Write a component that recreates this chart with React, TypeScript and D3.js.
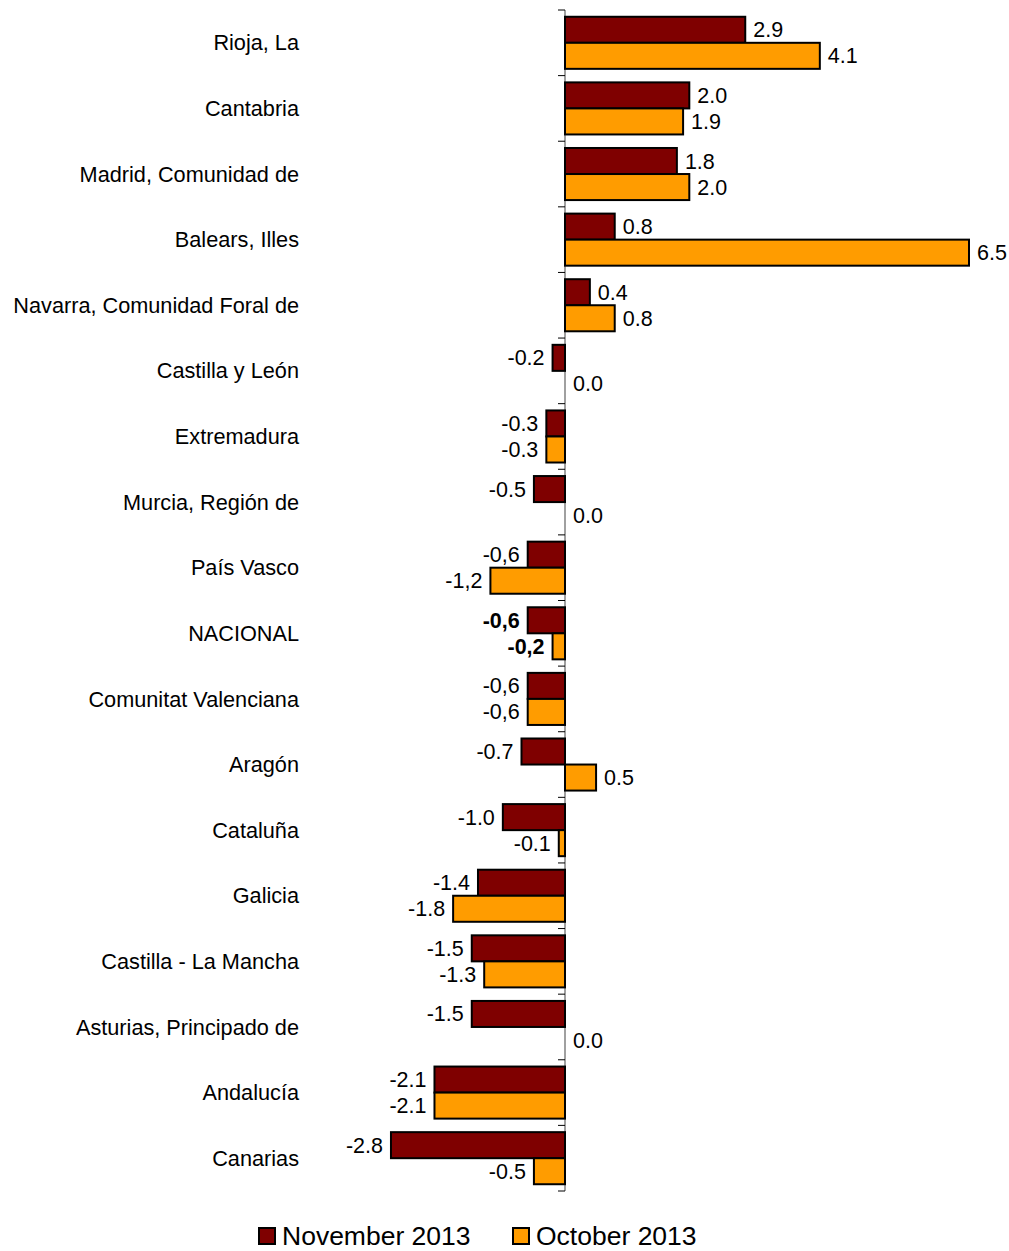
import { useEffect, useRef } from "react";
import * as d3 from "d3";

const regions = [
  "Rioja, La",
  "Cantabria",
  "Madrid, Comunidad de",
  "Balears, Illes",
  "Navarra, Comunidad Foral de",
  "Castilla y León",
  "Extremadura",
  "Murcia, Región de",
  "País Vasco",
  "NACIONAL",
  "Comunitat Valenciana",
  "Aragón",
  "Cataluña",
  "Galicia",
  "Castilla - La Mancha",
  "Asturias, Principado de",
  "Andalucía",
  "Canarias",
];

const november2013 = [2.9, 2.0, 1.8, 0.8, 0.4, -0.2, -0.3, -0.5, -0.6, -0.6, -0.6, -0.7, -1.0, -1.4, -1.5, -1.5, -2.1, -2.8];
const october2013 = [4.1, 1.9, 2.0, 6.5, 0.8, 0.0, -0.3, 0.0, -1.2, -0.2, -0.6, 0.5, -0.1, -1.8, -1.3, 0.0, -2.1, -0.5];

// value labels as printed in the source (mixed decimal separators)
const novemberLabels = ["2.9", "2.0", "1.8", "0.8", "0.4", "-0.2", "-0.3", "-0.5", "-0,6", "-0,6", "-0,6", "-0.7", "-1.0", "-1.4", "-1.5", "-1.5", "-2.1", "-2.8"];
const octoberLabels = ["4.1", "1.9", "2.0", "6.5", "0.8", "0.0", "-0.3", "0.0", "-1,2", "-0,2", "-0,6", "0.5", "-0.1", "-1.8", "-1.3", "0.0", "-2.1", "-0.5"];

const seriesNames = ["November 2013", "October 2013"];
const seriesColors = ["#7f0000", "#ff9c00"];

const App = () => {
  const ref = useRef<HTMLDivElement>(null);
  const width = 1009;
  const height = 1251;

  useEffect(() => {
    d3.select(ref.current).select("svg").remove();

    const svg = d3
      .select(ref.current)
      .append("svg")
      .attr("width", width)
      .attr("height", height)
      .style("display", "block")
      .style("font-family", "'Liberation Sans', Arial, sans-serif");

    const x = d3.scaleLinear().domain([0, 6.5]).range([565, 969]);
    const y = d3.scaleBand<string>().domain(regions).range([10, 1191]).paddingInner(0).paddingOuter(0);
    const inner = d3.scaleBand<number>().domain([0, 1]).range([0, y.bandwidth()]).paddingOuter(0.26).paddingInner(0);

    const series = [november2013, october2013];
    const labels = [novemberLabels, octoberLabels];

    // axis line with ticks between categories
    const ax = svg.append("g");
    ax.append("line")
      .attr("x1", x(0)).attr("x2", x(0))
      .attr("y1", y.range()[0]).attr("y2", y.range()[1])
      .attr("stroke", "#808080").attr("stroke-width", 1.5);
    const bounds = regions.map((r) => y(r) as number).concat([y.range()[1]]);
    ax.selectAll("line.tick")
      .data(bounds)
      .enter()
      .append("line")
      .attr("class", "tick")
      .attr("x1", x(0) - 7).attr("x2", x(0))
      .attr("y1", (d) => d).attr("y2", (d) => d)
      .attr("stroke", "#000").attr("stroke-width", 1);

    // category labels
    svg.selectAll("text.cat")
      .data(regions)
      .enter()
      .append("text")
      .attr("class", "cat")
      .attr("x", 299)
      .attr("y", (d) => (y(d) as number) + y.bandwidth() / 2)
      .attr("dy", "0.35em")
      .attr("text-anchor", "end")
      .attr("font-size", 21.7)
      .text((d) => d);

    series.forEach((vals, s) => {
      const g = svg.append("g");
      g.selectAll("rect")
        .data(vals)
        .enter()
        .append("rect")
        .attr("x", (d) => x(Math.min(0, d)))
        .attr("y", (_, i) => (y(regions[i]) as number) + (inner(s) as number))
        .attr("width", (d) => Math.abs(x(d) - x(0)))
        .attr("height", inner.bandwidth())
        .attr("fill", seriesColors[s])
        .attr("stroke", (d) => (d === 0 ? "none" : "#000"))
        .attr("stroke-width", 2);

      g.selectAll("text")
        .data(vals)
        .enter()
        .append("text")
        .attr("x", (d) => (d >= 0 ? x(d) + 8 : x(d) - 8))
        .attr("y", (_, i) => (y(regions[i]) as number) + (inner(s) as number) + inner.bandwidth() / 2)
        .attr("dy", "0.35em")
        .attr("text-anchor", (d) => (d >= 0 ? "start" : "end"))
        .attr("font-size", 21.5)
        .attr("font-weight", (_, i) => (regions[i] === "NACIONAL" ? "bold" : "normal"))
        .text((_, i) => labels[s][i]);
    });

    // legend
    const legendX = [259, 513];
    const lg = svg.append("g");
    seriesNames.forEach((name, i) => {
      lg.append("rect")
        .attr("x", legendX[i]).attr("y", 1228)
        .attr("width", 16).attr("height", 16)
        .attr("fill", seriesColors[i])
        .attr("stroke", "#000").attr("stroke-width", 2);
      lg.append("text")
        .attr("x", legendX[i] + 23).attr("y", 1236)
        .attr("dy", "0.35em")
        .attr("font-size", 26.5)
        .text(name);
    });
  }, []);

  return <div ref={ref} style={{ position: "absolute", left: 0, top: 0, width, height }} />;
};

export default App;
